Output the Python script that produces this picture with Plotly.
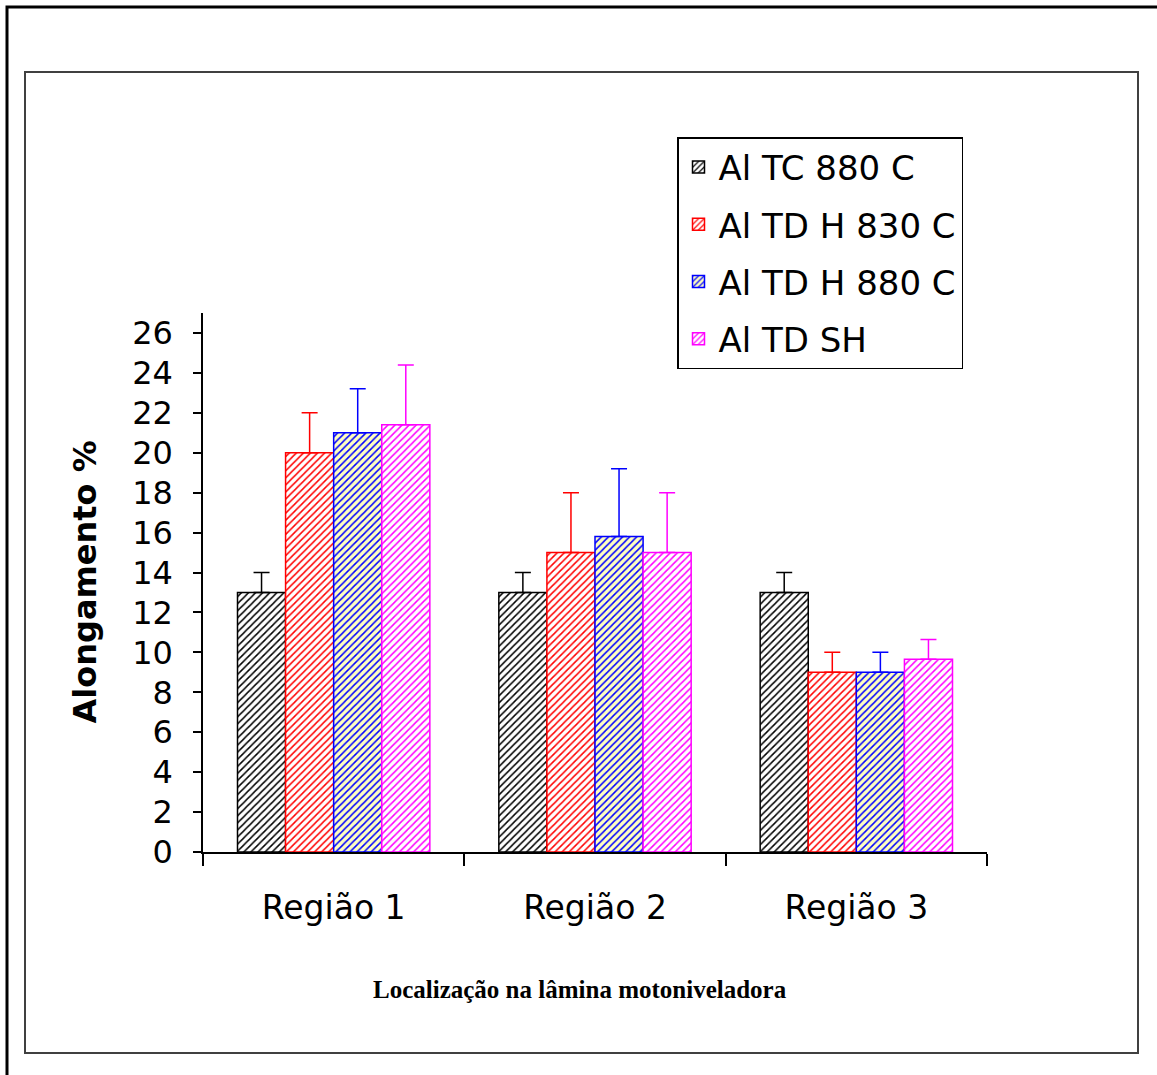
import plotly.graph_objects as go

categories = ["Região 1", "Região 2", "Região 3"]
series_names = ["Al TC 880 C", "Al TD H 830 C", "Al TD H 880 C", "Al TD SH"]
values_tc880 = [13, 13, 13]
values_tdh830 = [20, 15, 9]
values_tdh880 = [21, 15.8, 9]
values_tdsh = [21.4, 15, 9.65]
err_tc880 = [1, 1, 1]
err_tdh830 = [2, 3, 1]
err_tdh880 = [2.2, 3.4, 1]
err_tdsh = [3, 3, 1]
y_ticks = list(range(0, 27, 2))

W, H = 1157, 1075
L, R, T, B = 203, 170, 313, 223
pw, ph = W - L - R, H - T - B


def px(x):
    return (x - L) / pw


def py(y):
    return (H - B - y) / ph


styles = [
    dict(fg="#000000", bg="#FFFFFF"),
    dict(fg="#FF0000", bg="#FFFFFF"),
    dict(fg="#0000FF", bg="#FFFFC0"),
    dict(fg="#FF00FF", bg="#FFFFFF"),
]
vals = [values_tc880, values_tdh830, values_tdh880, values_tdsh]
errs = [err_tc880, err_tdh830, err_tdh880, err_tdsh]

fig = go.Figure()
for name, v, e, s in zip(series_names, vals, errs, styles):
    fig.add_trace(go.Bar(
        name=name, x=categories, y=v, legendgroup=name,
        marker=dict(color=s["bg"],
                    line=dict(color=s["fg"], width=1.5),
                    pattern=dict(shape="/", fgcolor=s["fg"], bgcolor=s["bg"],
                                 size=5, solidity=0.3, fillmode="replace")),
        error_y=dict(type="data", array=e, arrayminus=[0] * len(e), symmetric=False,
                     color=s["fg"], thickness=1.5, width=8),
    ))

shapes = [
    dict(type="rect", xref="paper", yref="paper", x0=px(7), x1=px(1162), y0=py(7), y1=py(1080),
         line=dict(color="black", width=3), layer="below"),
    dict(type="rect", xref="paper", yref="paper", x0=px(25), x1=px(1138), y0=py(72), y1=py(1053),
         line=dict(color="#404040", width=2), layer="below"),
]

fig.update_layout(
    width=W, height=H,
    margin=dict(l=L, r=R, t=T, b=B),
    paper_bgcolor="white", plot_bgcolor="white",
    barmode="group", bargap=0.264, bargroupgap=0,
    showlegend=True,
    legend=dict(x=px(677), y=py(137), xanchor="left", yanchor="top",
                font=dict(family="DejaVu Sans", size=34, color="black"),
                bordercolor="black", borderwidth=1.5, bgcolor="white",
                tracegroupgap=10),
    shapes=shapes,
    xaxis=dict(showline=True, linecolor="black", linewidth=1.5,
               ticks="outside", tickson="boundaries", ticklen=12, tickcolor="black", tickwidth=1.5,
               tickfont=dict(family="DejaVu Sans", size=33, color="black"),
               ticklabelstandoff=26, showgrid=False, zeroline=False),
    yaxis=dict(range=[0, 27], tickvals=y_ticks, showline=True, linecolor="black", linewidth=1.5,
               ticks="outside", ticklen=8, tickcolor="black", tickwidth=1.5,
               tickfont=dict(family="DejaVu Sans", size=32, color="black"),
               ticklabelstandoff=14, showgrid=False, zeroline=False),
    annotations=[
        dict(text="<b>Alongamento %</b>", xref="paper", yref="paper", x=px(84), y=0.5,
             textangle=-90, showarrow=False, xanchor="center", yanchor="middle",
             font=dict(family="DejaVu Sans", size=32, color="black")),
        dict(text="<b>Localização na lâmina motoniveladora</b>", xref="paper", yref="paper",
             x=px(580), y=py(989), showarrow=False, xanchor="center", yanchor="middle",
             font=dict(family="Liberation Serif", size=25, color="black")),
    ],
)

fig.write_html("out.html", config={"displayModeBar": False},
               post_script="document.body.style.margin='0';document.body.style.padding='0';")
